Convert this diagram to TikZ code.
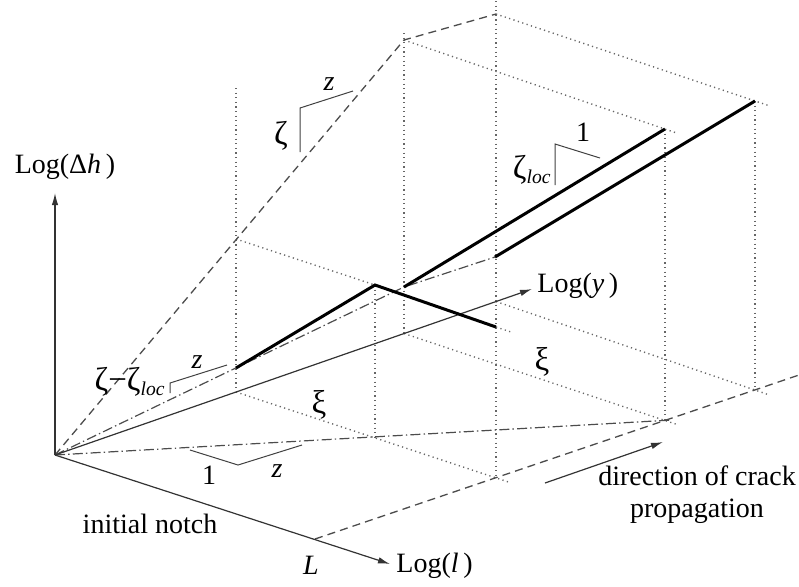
\documentclass[tikz,border=0pt]{standalone}
\usepackage{fontspec}
\setmainfont{Liberation Serif}
\usetikzlibrary{arrows.meta}
\begin{document}
\begin{tikzpicture}[x=0.5pt,y=-0.5pt,
  every node/.style={font=\fontsize{14}{16}\selectfont, inner sep=0pt},
  greek/.style={font=\fontsize{16.5}{18}\selectfont},
  axisline/.style={draw=black!80, line width=0.6pt, -{Latex[length=6pt,width=3.2pt]}},
  heavy/.style={draw=black, line width=1.5pt},
  dotline/.style={draw=black!60, line width=0.7pt, dash pattern=on 0.6pt off 1.7pt},
  dashline/.style={draw=black!70, line width=0.65pt, dash pattern=on 4pt off 2.6pt},
  dashdotline/.style={draw=black!70, line width=0.6pt, dash pattern=on 5pt off 1.6pt on 0.7pt off 1.6pt},
  slopeline/.style={draw=black!75, line width=0.5pt}]
\useasboundingbox (0,0) rectangle (799,586);
% key points
\coordinate (O) at (55,455);
\coordinate (hTip) at (55,193);
\coordinate (lTip) at (390,564);
\coordinate (yTip) at (532,289);
\coordinate (Lpt) at (315,539);
\coordinate (Rend) at (799,375);
\coordinate (C1) at (404,40);
\coordinate (C2) at (496,14);
\coordinate (V1t) at (236,88);
\coordinate (V1m) at (236,239);
\coordinate (V1b) at (236,392);
\coordinate (P) at (375,285);
\coordinate (V2b) at (375,437);
\coordinate (V3t) at (404,33);
\coordinate (V3b) at (404,333.5);
\coordinate (V4t) at (496,1);
\coordinate (V4y) at (496,301.5);
\coordinate (V4b) at (496,477.7);
\coordinate (V5t) at (665,129);
\coordinate (V5b) at (665,420.5);
\coordinate (V6t) at (755,101);
\coordinate (V6b) at (755,390);
\coordinate (T0) at (236,368);
\coordinate (T1) at (496,327);
\coordinate (Q) at (404,287);
\coordinate (T2) at (495,257);
% overshoot ends
\coordinate (D2e) at (678,133.5);
\coordinate (D3e) at (770,106);
\coordinate (D5e) at (510,482.5);
\coordinate (D6e) at (677,424.5);
\coordinate (D7e) at (768,394.5);
\coordinate (T1e) at (511,332);
\coordinate (DDe) at (672,420);
% dotted box lines
\draw[dotline] (V1t) -- (V1b);
\draw[dotline] (P) -- (V2b);
\draw[dotline] (V3t) -- (V3b);
\draw[dotline] (V4t) -- (V4b);
\draw[dotline] (V5t) -- (V5b);
\draw[dotline] (V6t) -- (V6b);
\draw[dotline] (V1m) -- (P);
\draw[dotline] (C1) -- (D2e);
\draw[dotline] (C2) -- (D3e);
\draw[dotline] (V1b) -- (D5e);
\draw[dotline] (V3b) -- (D6e);
\draw[dotline] (V4y) -- (D7e);
\draw[dotline] (T1) -- (T1e);
% dashed lines
\draw[dashline] (O) -- (C1) -- (C2);
\draw[dashline] (Lpt) -- (Rend);
% dash-dot lines
\draw[dashdotline] (O) -- (DDe);
\draw[dashdotline] (O) -- (Q) -- (T2);
% axes
\draw[axisline] (O) -- (hTip);
\draw[axisline] (O) -- (lTip);
\draw[axisline] (O) -- (yTip);
% heavy lines
\draw[heavy] (T0) -- (P) -- (T1);
\draw[heavy] (Q) -- (V5t);
\draw[heavy] (T2) -- (V6t);
% slope triangles
\coordinate (S1a) at (300,152); \coordinate (S1b) at (300,108); \coordinate (S1c) at (353,91);
\draw[slopeline] (S1a) -- (S1b) -- (S1c);
\coordinate (S2a) at (555,185); \coordinate (S2b) at (555,144); \coordinate (S2c) at (600,158);
\draw[slopeline] (S2a) -- (S2b) -- (S2c);
\coordinate (S3a) at (170,393); \coordinate (S3b) at (170,383); \coordinate (S3c) at (227,365);
\draw[slopeline] (S3a) -- (S3b) -- (S3c);
\coordinate (S4a) at (190,450); \coordinate (S4b) at (238,465); \coordinate (S4c) at (302,445);
\draw[slopeline] (S4a) -- (S4b) -- (S4c);
% direction arrow
\coordinate (A1) at (545,483); \coordinate (A2) at (663,442);
\draw[axisline] (A1) -- (A2);
% labels
\node (lh) at (65,167) {Log(Δ\textit{h}\,)};
\node[anchor=west] (ly) at (537,286) {Log(\textit{y}\,)};
\node[anchor=west] (ll) at (396,566) {Log(\textit{l}\,)};
\node (lL) at (311,565) {\textit{L}};
\node (notch) at (150,524) {initial notch};
\node[greek] (xi1) at (319,405) {ξ};
\node[greek] (xi2) at (542,362) {ξ};
\node[align=center] (dir) at (697,495) {direction of crack\\propagation};
\node[greek] (zeta1) at (281,136) {ζ};
\node (z1) at (329,84) {\textit{z}};
\node[anchor=east] (zloc) at (552,170) {{\fontsize{16.5}{18}\selectfont ζ}\textsubscript{\textit{loc}}};
\node (one1) at (583,132) {1};
\node[anchor=east] (zzloc) at (166,382) {{\fontsize{16.5}{18}\selectfont ζ−ζ}\textsubscript{\textit{loc}}};
\node (z2) at (197,362) {\textit{z}};
\node (one2) at (209,475) {1};
\node (z3) at (277,471) {\textit{z}};
\end{tikzpicture}
\end{document}
